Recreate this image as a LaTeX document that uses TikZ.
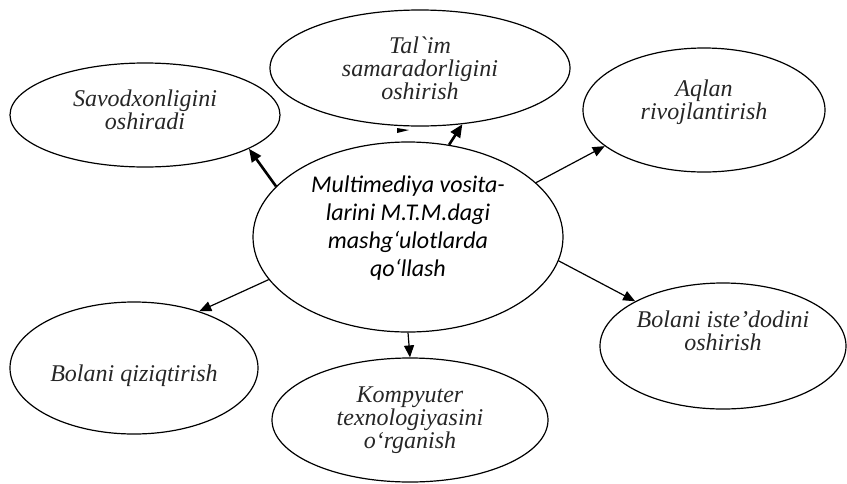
\documentclass[tikz,border=0pt]{standalone}
\usepackage{fontspec}
\setmainfont{Liberation Serif}
\newfontfamily\timesit{Liberation Serif}
\newfontfamily\calibri{Carlito}
\usetikzlibrary{arrows.meta, shapes.geometric}

\begin{document}
\begin{tikzpicture}[
    x=0.5pt, y=-0.5pt,
    bubble/.style={draw, ellipse, line width=0.6pt, inner sep=0pt},
    outer/.style={font=\timesit\fontsize{12}{11.5}\selectfont\itshape, align=center, text=black!85},
    centretext/.style={font=\calibri\fontsize{12}{14}\selectfont\itshape, align=center},
    thin/.style={-{Triangle[length=6pt,width=5pt]}, line width=0.6pt},
    heavy/.style={-{Triangle[length=6.5pt,width=5.5pt]}, line width=1.3pt}
]
    \useasboundingbox (0,0) rectangle (847,483);

    % Centre
    \node[bubble, minimum width=155pt, minimum height=95pt,
          label={[centretext, yshift=4.5pt]center:{Multimediya vosita-\\larini M.T.M.dagi\\mashg‘ulotlarda\\qo‘llash}}] (main) at (408,237) {};

    % Upper row
    \node[bubble, minimum width=135pt, minimum height=52pt,
          label={[outer, yshift=2.5pt]center:{Savodxonligini\\oshiradi}}] (savod) at (145,115) {};
    \node[bubble, minimum width=150pt, minimum height=58pt,
          label={[outer]center:{Tal\textasciigrave im\\samaradorligini\\oshirish}}] (talim) at (420,68) {};
    \node[bubble, minimum width=121pt, minimum height=62pt,
          label={[outer, yshift=4pt]center:{Aqlan\\rivojlantirish}}] (aqlan) at (704,110) {};

    % Lower row
    \node[bubble, minimum width=124pt, minimum height=66pt,
          label={[outer, yshift=-4pt]center:{Bolani qiziqtirish}}] (qiziq) at (134,368) {};
    \node[bubble, minimum width=138pt, minimum height=62pt,
          label={[outer]center:{Kompyuter\\texnologiyasini\\o‘rganish}}] (kompyuter) at (410,420) {};
    \node[bubble, minimum width=123pt, minimum height=63pt,
          label={[outer, yshift=7.5pt]center:{Bolani iste’dodini\\oshirish}}] (isted) at (723,346) {};

    % Arrows
    \draw[heavy] (main.159) -- (savod.342);
    \draw[heavy] (main.66) -- (talim.307);
    \draw[thin] (main.23) -- (aqlan.200);
    \draw[thin] (main.197) -- (qiziq.41);
    \draw[thin] (main.south) -- (kompyuter.north);
    \draw[thin] (main.351) -- (isted.153);

    % stray tip under Tal`im
    \fill (397,128) -- (409,130) -- (397,133) -- cycle;

\end{tikzpicture}
\end{document}
